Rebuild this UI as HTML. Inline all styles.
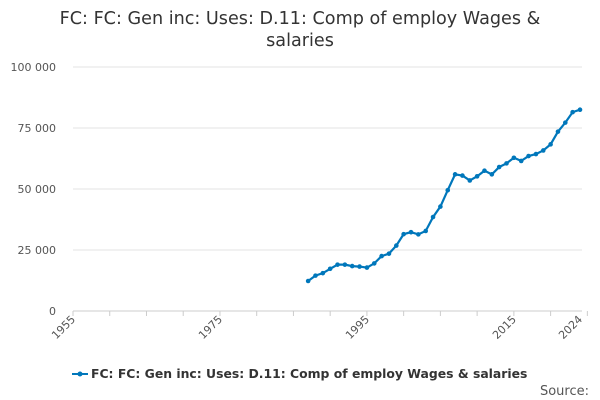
<!DOCTYPE html>
<html><head><meta charset="utf-8"><style>
body{margin:0;background:#fff;font-family:"DejaVu Sans","Liberation Sans",sans-serif;}
svg{display:block}
</style></head><body>
<svg width="600" height="400" id="c" font-family="DejaVu Sans, Liberation Sans, sans-serif">
<text x="300" y="24" text-anchor="middle" font-size="17.6" fill="#333">FC: FC: Gen inc: Uses: D.11: Comp of employ Wages &amp;</text>
<text x="300" y="46" text-anchor="middle" font-size="17.6" fill="#333">salaries</text>
<g id="grid"></g><g id="axes"></g><g id="series"></g>
<g>
<line x1="72" y1="374" x2="88" y2="374" stroke="#0077bb" stroke-width="2"/>
<circle cx="80" cy="374" r="2.5" fill="#0077bb"/>
<text x="91" y="378" font-size="12.4" font-weight="bold" fill="#333">FC: FC: Gen inc: Uses: D.11: Comp of employ Wages &amp; salaries</text>
</g>
<text x="589" y="395" text-anchor="end" font-size="13" fill="#555">Source:</text>
</svg>
<script>
const years=[1987,1988,1989,1990,1991,1992,1993,1994,1995,1996,1997,1998,1999,2000,2001,2002,2003,2004,2005,2006,2007,2008,2009,2010,2011,2012,2013,2014,2015,2016,2017,2018,2019,2020,2021,2022,2023,2024];
const values=[12300,14500,15500,17300,19000,19000,18400,18200,17800,19500,22500,23500,26800,31500,32300,31400,32800,38500,42800,49500,56000,55500,53500,55200,57500,56000,59000,60500,62800,61500,63500,64300,65800,68300,73500,77200,81500,82500];
const yTicks=[0,25000,50000,75000,100000];
const yTickLabels=["0","25 000","50 000","75 000","100 000"];
const xLabels=[1955,1975,1995,2015,2024];
const NS="http://www.w3.org/2000/svg";
const X=y=>73+(y-1955)*(507/69);
const Y=v=>311-v*0.00244;
function mk(t,a,p){const e=document.createElementNS(NS,t);for(const k in a)e.setAttribute(k,a[k]);p.appendChild(e);return e;}
const grid=document.getElementById('grid'),axes=document.getElementById('axes'),ser=document.getElementById('series');
yTicks.forEach((v,i)=>{
 const l=mk('line',{x1:73,x2:582,y1:Y(v),y2:Y(v),stroke:i==0?'#ccc':'#e3e3e3'},grid);
 
 
 const t=mk('text',{x:56,y:Y(v)+4,'text-anchor':'end','font-size':11,fill:'#555'},axes);
 t.textContent=yTickLabels[i];
 
 
});
for(let y=1955;y<=2025;y+=5){
 const tk=mk('line',{x1:X(y),x2:X(y),y1:311,y2:316,stroke:'#ccc'},axes);
 
 
}
xLabels.forEach(y=>{
 const t=mk('text',{x:X(y)+3,y:320,'text-anchor':'end','font-size':11,fill:'#555',transform:`rotate(-45 ${X(y)+3} 320)`},axes);
 t.textContent=y;
 
 
});
const path=mk('polyline',{points:years.map((y,i)=>X(y)+','+Y(values[i])).join(' '),fill:'none',stroke:'#0077bb','stroke-width':2.2},ser);


years.forEach((y,i)=>{
 const c=mk('circle',{cx:X(y),cy:Y(values[i]),r:2.3,fill:'#0077bb'},ser);
 
 
});
</script>
</body></html>
